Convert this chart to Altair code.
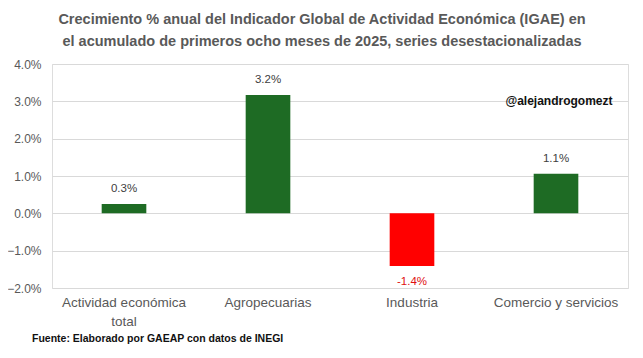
import altair as alt
import pandas as pd

categories = ["Actividad económica total", "Agropecuarias", "Industria", "Comercio y servicios"]
values = [0.25, 3.17, -1.41, 1.06]
labels = ["0.3%", "3.2%", "-1.4%", "1.1%"]
title_lines = ["Crecimiento % anual del Indicador Global de Actividad Económica (IGAE) en",
               "el acumulado de primeros ocho meses de 2025, series desestacionalizadas"]

df = pd.DataFrame({"cat": categories, "val": values, "lab": labels})
df["sign"] = ["pos" if v >= 0 else "neg" for v in values]

FONT = "Liberation Sans, Arial"
GREY = "#595959"

x = alt.X("cat:N", sort=categories, title=None,
          scale=alt.Scale(paddingInner=0.69, paddingOuter=0.345),
          axis=alt.Axis(labelAngle=0, domain=False, ticks=False, labelPadding=7,
                        labelFontSize=13.5, labelColor=GREY, labelFont=FONT,
                        labelLineHeight=19, labelBaseline="top",
                        labelExpr="datum.label == 'Actividad económica total' ? ['Actividad económica', 'total'] : datum.label"))
y = alt.Y("val:Q", title=None,
          scale=alt.Scale(domain=[-2, 4], nice=False),
          axis=alt.Axis(values=[-2, -1, 0, 1, 2, 3, 4], domain=False, ticks=False,
                        labelPadding=11, labelFontSize=12, labelColor=GREY, labelFont=FONT,
                        labelExpr="format(datum.value, '.1f') + '%'",
                        gridColor="#d9d9d9", gridWidth=1))

bars = alt.Chart(df).mark_bar().encode(
    x=x, y=y,
    color=alt.Color("sign:N", scale=alt.Scale(domain=["pos", "neg"], range=["#1e6b24", "#ff0000"]), legend=None),
)

pos_text = alt.Chart(df).transform_filter("datum.val >= 0").mark_text(
    baseline="bottom", dy=-10, fontSize=11.5, font=FONT, color="#404040"
).encode(x=x, y=y, text="lab:N")

neg_text = alt.Chart(df).transform_filter("datum.val < 0").mark_text(
    baseline="top", dy=10, fontSize=11.5, font=FONT, color="#e01010"
).encode(x=x, y=y, text="lab:N")

title_df = pd.DataFrame({"t": title_lines, "row": [0, 1]})
title1 = alt.Chart(title_df).transform_filter("datum.row == 0").mark_text(
    fontSize=14.5, fontWeight="bold", font=FONT, color=GREY, align="center", baseline="middle"
).encode(x=alt.value(270), y=alt.value(-44), text="t:N")
title2 = alt.Chart(title_df).transform_filter("datum.row == 1").mark_text(
    fontSize=14.5, fontWeight="bold", font=FONT, color=GREY, align="center", baseline="middle"
).encode(x=alt.value(270), y=alt.value(-22), text="t:N")

watermark = alt.Chart(pd.DataFrame({"t": ["@alejandrogomezt"]})).mark_text(
    fontSize=12, fontWeight="bold", font=FONT, color="#111111", align="center", baseline="middle"
).encode(x=alt.value(507), y=alt.value(37), text="t:N")

source = alt.Chart(pd.DataFrame({"t": ["Fuente: Elaborado por GAEAP con datos de INEGI"]})).mark_text(
    fontSize=10.5, fontWeight="bold", font=FONT, color="#111111", align="left", baseline="middle"
).encode(x=alt.value(-20), y=alt.value(275), text="t:N")

chart = alt.layer(bars, pos_text, neg_text, title1, title2, watermark, source).properties(
    width=576, height=224,
    padding={"left": 44, "top": 56, "right": 7, "bottom": 62},
    autosize=alt.AutoSizeParams(type="none"),
).configure_view(stroke=None).configure(background="white")

chart.save("out.html", embed_options={"renderer": "svg", "actions": False})
